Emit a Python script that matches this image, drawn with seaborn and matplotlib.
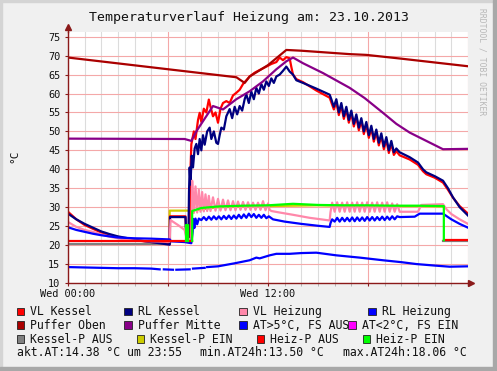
import numpy as np
import pandas as pd
import matplotlib
matplotlib.use("Agg")
import matplotlib.pyplot as plt
import seaborn as sns
from matplotlib.patches import Rectangle
from matplotlib.lines import Line2D

plt.rcParams['font.family'] = ['DejaVu Sans Mono']

nan = np.nan

# ---------------- data ----------------
title = "Temperaturverlauf Heizung am: 23.10.2013"
y_label = "°C"
y_ticks = [10, 15, 20, 25, 30, 35, 40, 45, 50, 55, 60, 65, 70, 75]
x_major = [0, 6, 12, 18, 24]
x_major_labels = ["Wed 00:00", "", "Wed 12:00", "", ""]
watermark = "RRDTOOL / TOBI OETIKER"

# VL Kessel
vlk_t = [0, 0.5, 1, 1.5, 2, 2.5, 3, 3.5, 4, 5, 6.1, 6.12, 7.05, 7.1, 7.3, 7.35, 7.4, 7.55, 7.65,
         7.8, 7.9, 8.0, 8.15, 8.3, 8.45, 8.55, 8.7, 8.85, 9.0, 9.15, 9.3, 9.5, 9.7, 9.9, 10.1,
         10.3, 10.5, 10.7, 10.9, 11.2, 11.5, 11.9, 12.2, 12.5, 12.7, 12.9, 13.1, 13.3, 13.4,
         13.5, 13.7, 14.1, 14.9, 15.7, 15.95, 16.1, 16.25, 16.4, 16.55, 16.7, 16.85, 17.0,
         17.15, 17.3, 17.45, 17.6, 17.75, 17.9, 18.05, 18.2, 18.35, 18.5, 18.65, 18.8, 18.95,
         19.1, 19.25, 19.4, 19.55, 19.7, 19.9, 20.5, 21.0, 21.3, 21.5, 22.0, 22.5, 22.8, 23.1,
         23.5, 24.0]
vlk_v = [28.8, 26.8, 25.3, 24.3, 23.3, 22.6, 22.1, 21.7, 21.3, 20.8, 20.4, 27.6, 27.6, 20.9, 20.9,
         40.0, 46.6, 50.0, 48.0, 53.0, 54.9, 52.5, 56.0, 55.0, 58.4, 56.5, 54.0, 55.0, 52.3,
         56.0, 57.5, 58.0, 57.5, 59.5, 60.2, 61.0, 62.5, 63.5, 64.5, 65.5, 66.2, 67.1, 67.8,
         68.3, 69.5, 68.8, 69.6, 69.3, 67.0, 65.0, 63.8, 63.0, 60.8, 58.9, 55.8, 57.8, 54.3,
         56.8, 53.3, 55.8, 52.3, 54.8, 51.3, 53.8, 50.3, 52.8, 49.3, 51.8, 48.3, 50.8, 47.3,
         49.8, 46.3, 48.8, 45.3, 47.8, 44.3, 46.8, 43.8, 44.8, 43.7, 42.6, 41.2, 39.5, 38.7,
         37.8, 36.5, 34.6, 32.5, 30.3, 28.3]

# RL Kessel
rlk_t = [0, 0.5, 1, 1.5, 2, 2.5, 3, 3.5, 4, 5, 6.1, 6.12, 7.05, 7.1, 7.22, 7.26, 7.3, 7.35, 7.42,
         7.5, 7.6, 7.7, 7.8, 7.9, 8.0, 8.1, 8.2, 8.35, 8.5, 8.6, 8.75, 8.9, 9.0, 9.1, 9.2, 9.35,
         9.5, 9.7, 9.85, 10.0, 10.15, 10.3, 10.45, 10.6, 10.7, 10.85, 11.0, 11.15, 11.3, 11.45,
         11.6, 11.75, 11.9, 12.05, 12.2, 12.35, 12.5, 12.7, 12.9, 13.1, 13.3, 13.5, 13.7, 14.1,
         14.9, 15.7, 15.8, 15.95, 16.1, 16.25, 16.4, 16.55, 16.7, 16.85, 17.0, 17.15, 17.3,
         17.45, 17.6, 17.75, 17.9, 18.05, 18.2, 18.35, 18.5, 18.65, 18.8, 18.95, 19.1, 19.25,
         19.4, 19.55, 19.7, 19.9, 20.5, 21.0, 21.3, 21.5, 22.0, 22.5, 22.8, 23.1, 23.5, 24.0]
rlk_v = [28.3, 26.8, 25.6, 24.6, 23.6, 22.9, 22.3, 21.9, 21.4, 20.8, 20.1, 27.4, 27.4, 21.0, 21.0,
         34.0, 40.5, 36.0, 43.6, 40.5, 45.5, 46.7, 44.0, 48.0, 45.0, 49.0, 46.5, 50.0, 51.0,
         48.0, 50.0, 47.0, 46.7, 49.0, 51.0, 50.5, 54.0, 55.9, 53.5, 56.5, 54.5, 56.7, 55.5,
         58.5, 59.8, 57.5, 60.5, 58.5, 61.5, 60.0, 62.5, 61.0, 63.2, 62.0, 64.0, 62.8, 64.5,
         65.0, 66.0, 67.1, 65.8, 65.0, 63.5, 62.8, 61.3, 59.7, 58.5, 56.5, 58.5, 55.0, 57.5,
         54.0, 56.5, 53.0, 55.5, 52.0, 54.5, 51.0, 53.5, 50.0, 52.5, 49.0, 51.5, 48.0, 50.5,
         47.0, 49.5, 46.0, 48.5, 45.0, 47.5, 44.5, 45.5, 44.5, 43.2, 41.8, 40.0, 39.2, 38.2,
         37.0, 35.0, 32.6, 30.0, 27.8]

# VL Heizung
vlh_t = [0, 0.5, 1, 1.5, 2, 2.5, 3, 3.5, 4, 5, 6.1, 6.15, 6.6, 7.0, 7.1, 7.4, 7.45, 7.55, 7.65,
         7.75, 7.85, 7.95, 8.05, 8.15, 8.25, 8.35, 8.45, 8.55, 8.7, 8.85, 9.0, 9.15, 9.3, 9.45,
         9.6, 9.75, 9.9, 10.05, 10.2, 10.35, 10.5, 10.65, 10.8, 10.95, 11.1, 11.25, 11.4, 11.55,
         11.7, 11.85, 12.0, 12.1, 12.2, 12.7, 13.5, 14.5, 15.7, 15.75, 15.85, 16.0, 16.15, 16.3,
         16.45, 16.6, 16.75, 16.9, 17.05, 17.2, 17.35, 17.5, 17.65, 17.8, 17.95, 18.1, 18.25,
         18.4, 18.55, 18.7, 18.85, 19.0, 19.15, 19.3, 19.45, 19.6, 19.75, 19.9, 21.0, 21.2,
         22.5, 22.7, 23.0, 23.5, 24.0]
vlh_v = [26.1, 24.8, 24.0, 23.5, 22.8, 22.2, 21.8, 21.4, 21.2, 21.0, 20.9, 26.6, 25.3, 24.0, 22.0,
         21.3, 37.0, 28.5, 35.5, 28.6, 34.6, 28.8, 34.0, 28.9, 33.4, 29.0, 33.0, 29.0, 32.6,
         29.1, 32.2, 29.1, 32.0, 29.2, 31.8, 29.2, 31.6, 29.2, 31.5, 29.3, 31.4, 29.3, 31.3,
         29.3, 31.2, 29.3, 31.2, 29.3, 31.6, 29.2, 31.0, 29.3, 29.0, 28.6, 28.0, 27.2, 26.5,
         28.7, 31.2, 28.8, 31.3, 28.8, 31.2, 28.8, 31.3, 28.8, 31.2, 28.8, 31.3, 28.8, 31.2,
         28.8, 31.3, 28.8, 31.2, 28.8, 31.3, 28.8, 31.2, 28.8, 31.3, 28.8, 31.0, 28.8, 30.8,
         28.8, 28.8, 30.6, 30.8, 29.5, 28.2, 26.8, 25.6]

# RL Heizung
rlh_t = [0, 0.5, 1, 1.5, 2, 2.5, 3, 4, 5, 6.1, 6.2, 7.0, 7.4, 7.48, 7.52, 7.58, 7.65, 7.75, 7.85,
         8.0, 8.15, 8.3, 8.45, 8.6, 8.75, 8.9, 9.05, 9.2, 9.35, 9.5, 9.65, 9.8, 9.95, 10.1, 10.25,
         10.4, 10.55, 10.7, 10.85, 11.0, 11.15, 11.3, 11.45, 11.6, 11.75, 11.9, 12.05, 12.3,
         13.0, 14.0, 15.0, 15.7, 15.75, 15.85, 16.0, 16.15, 16.3, 16.45, 16.6, 16.75, 16.9,
         17.05, 17.2, 17.35, 17.5, 17.65, 17.8, 17.95, 18.1, 18.25, 18.4, 18.55, 18.7, 18.85,
         19.0, 19.15, 19.3, 19.45, 19.6, 19.75, 19.9, 20.8, 21.1, 22.5, 23.0, 23.5, 24.0]
rlh_v = [24.7, 24.0, 23.5, 23.0, 22.6, 22.3, 22.0, 21.8, 21.7, 21.5, 21.0, 20.8, 20.5, 23.5, 26.9,
         24.5, 27.0, 25.5, 27.0, 26.6, 27.4, 26.6, 27.5, 26.7, 27.6, 26.8, 27.6, 26.8, 27.7,
         26.9, 27.8, 26.9, 27.8, 27.0, 28.0, 27.1, 28.1, 27.2, 28.3, 27.4, 28.2, 27.2, 28.0,
         27.2, 28.0, 27.1, 27.6, 26.8, 26.2, 25.6, 25.1, 24.8, 25.8, 26.8, 26.2, 27.2, 26.2,
         27.2, 26.3, 27.2, 26.3, 27.3, 26.3, 27.3, 26.4, 27.3, 26.4, 27.4, 26.5, 27.4, 26.5,
         27.4, 26.6, 27.5, 26.6, 27.5, 26.7, 27.6, 26.8, 27.6, 27.4, 27.5, 28.3, 28.3, 26.8,
         25.6, 24.6]

# Puffer Oben
po_t = [0, 10.1, 10.6, 10.9, 12.0, 13.1, 14.0, 16.9, 17.9, 20.0, 22.0, 24.0]
po_v = [69.5, 64.3, 62.8, 64.5, 67.5, 71.5, 71.3, 70.4, 70.2, 69.2, 68.2, 67.2]

# Puffer Mitte
pm_t = [0, 7.0, 7.4, 7.7, 8.1, 8.7, 9.3, 10.1, 10.9, 11.7, 12.5, 13.1, 13.5, 14.1, 15.3, 16.9,
        17.8, 18.9, 19.7, 20.5, 21.5, 22.5, 24.0]
pm_v = [48.1, 48.0, 47.5, 50.0, 52.7, 56.7, 55.8, 58.5, 60.6, 63.2, 66.4, 68.5, 69.5, 68.0, 65.4,
        61.5, 58.8, 54.9, 52.0, 49.7, 47.5, 45.3, 45.4]

# Aussentemperatur (AT>5°C, FS AUS)
at_t = [0, 1, 2, 3, 4, 5, 5.5, nan, 5.75, 6.3, nan, 6.5, 7.3, nan, 7.5, 8.2, nan, 8.35, 9.0,
        10.0, 10.9, 11.3, 11.5, 12.1, 12.5, 13.3, 14.0, 14.9, 16.1, 17.5, 18.9, 20.0, 20.9,
        22.0, 22.9, 24.0]
at_v = [14.2, 14.1, 14.0, 13.9, 13.9, 13.8, 13.6, nan, 13.6, 13.5, nan, 13.5, 13.6, nan, 13.8,
        14.0, nan, 14.2, 14.4, 15.2, 16.0, 16.7, 16.5, 17.3, 17.7, 17.7, 17.9, 18.0, 17.3,
        16.7, 16.0, 15.5, 15.0, 14.6, 14.3, 14.4]

# Kessel-Pumpe
kpa_t = [0, 6.1, 6.1, nan, 22.5, 24.0]
kpa_v = [20.3, 20.3, 25.0, nan, 21.2, 21.2]
kpe_t = [6.1, 6.1, 7.45, 9.0, 12.0, 15.0, 18.0, 21.0, 22.5]
kpe_v = [25.0, 29.1, 29.1, 30.0, 30.3, 30.5, 30.3, 30.3, 30.2]

# Heiz-Pumpe
hpa_t = [0, 7.1, nan, 7.2, 7.45, nan, 22.55, 24.0]
hpa_v = [21.1, 21.1, nan, 21.1, 21.1, nan, 21.3, 21.3]
hpe_t = [7.1, 7.1, 7.2, 7.2, nan, 7.45, 7.45, 8.0, 9.0, 10.5, 12.0, 13.5, 15.0, 16.5, 18.0,
         19.5, 21.0, 22.5, 22.55, 22.55]
hpe_v = [21.1, 25.3, 25.3, 21.1, nan, 21.1, 29.0, 29.8, 30.2, 30.4, 30.5, 30.9, 30.6, 30.5,
         30.5, 30.4, 30.4, 30.3, 30.3, 21.3]

legend_names = ["VL Kessel", "RL Kessel", "VL Heizung", "RL Heizung",
                "Puffer Oben", "Puffer Mitte", "AT>5°C, FS AUS", "AT<2°C, FS EIN",
                "Kessel-P AUS", "Kessel-P EIN", "Heiz-P AUS", "Heiz-P EIN"]
legend_colors = ["#ff0000", "#000080", "#ff88aa", "#0000ff",
                 "#aa0000", "#880088", "#0000ff", "#ff00ff",
                 "#808080", "#cccc00", "#ff0000", "#00ff00"]
stats_texts = ["akt.AT:14.38 °C um 23:55", "min.AT24h:13.50 °C", "max.AT24h:18.06 °C"]

# ---------------- figure ----------------
W, H = 497, 371
fig = plt.figure(figsize=(W / 100, H / 100), dpi=100)
fig.patch.set_facecolor("#f0f0f0")

def fx(px):
    return px / W

def fy(py):
    return 1 - py / H

# border
fig.patches.append(Rectangle((0, 0), fx(2), 1, transform=fig.transFigure, color="#d4d4d4", zorder=0))
fig.patches.append(Rectangle((0, fy(2)), 1, fx(2) * W / H, transform=fig.transFigure, color="#d4d4d4", zorder=0))
fig.patches.append(Rectangle((fx(493), 0), fx(4), 1, transform=fig.transFigure, color="#a8a8a8", zorder=0))
fig.patches.append(Rectangle((0, 0), 1, 1 - fy(4) + 0 * 1, transform=fig.transFigure, color="#a8a8a8", zorder=0))
fig.patches[-1].set_height(4 / H)

ax_left, ax_right, ax_bottom, ax_top = 68, 468, 283, 32.3
ax = fig.add_axes([fx(ax_left), fy(ax_bottom), (ax_right - ax_left) / W, (ax_bottom - ax_top) / H])
ax.set_facecolor("white")
ax.set_xlim(0, 24)
ax.set_ylim(10, 76.16)

# grid
major_c = "#f4a8a8"
minor_c = "#dcdcdc"
for h in range(25):
    if h % 6 == 0:
        continue
    ax.axvline(h, color=minor_c, lw=0.8, zorder=0)
for h in x_major:
    ax.axvline(h, color=major_c, lw=0.8, zorder=0.5)
for yv in y_ticks:
    ax.axhline(yv, color=major_c, lw=0.8, zorder=0.5)

def draw(t, v, color, lw=1.6, z=2):
    t = np.asarray(t, float)
    v = np.asarray(v, float)
    seg = np.cumsum(np.isnan(t))
    df = pd.DataFrame({"t": t, "v": v, "seg": seg}).dropna()
    for _, g in df.groupby("seg"):
        sns.lineplot(data=g, x="t", y="v", ax=ax, color=color, lw=lw, estimator=None,
                     sort=False, zorder=z, legend=False)

draw(kpa_t, kpa_v, legend_colors[8], z=1.5)
draw(kpe_t, kpe_v, legend_colors[9], z=1.6)
draw(vlk_t, vlk_v, legend_colors[0], z=2)
draw(rlk_t, rlk_v, legend_colors[1], z=2.1)
draw(vlh_t, vlh_v, legend_colors[2], z=2.2)
draw(rlh_t, rlh_v, legend_colors[3], z=2.3)
draw(po_t, po_v, legend_colors[4], z=2.4)
draw(pm_t, pm_v, legend_colors[5], z=2.5)
draw(at_t, at_v, legend_colors[6], z=2.6)
draw(hpa_t, hpa_v, legend_colors[10], z=2.7)
draw(hpe_t, hpe_v, legend_colors[11], z=2.8)

ax.set_xlabel("")
ax.set_ylabel("")

# axes & ticks
axis_c = "#8b1a1a"
for s in ["top", "right"]:
    ax.spines[s].set_visible(False)
for s in ["left", "bottom"]:
    ax.spines[s].set_color(axis_c)
    ax.spines[s].set_linewidth(1.0)
    ax.spines[s].set_zorder(5)

ax.set_yticks(y_ticks)
ax.set_yticklabels([str(v) for v in y_ticks])
ax.set_xticks(x_major)
ax.set_xticklabels(x_major_labels)
ax.set_xticks(list(range(25)), minor=True)
ax.tick_params(axis="y", which="major", length=2, width=0.8, color=axis_c, pad=3.5,
               labelsize=7.4, labelcolor="#111111")
ax.tick_params(axis="x", which="major", length=2, width=0.8, color=axis_c, pad=2.5,
               labelsize=7.4, labelcolor="#111111")
ax.tick_params(axis="x", which="minor", length=2, width=0.6, color="#aaaaaa")

# axis extensions and arrows
yt = (ax_bottom - 27) / (ax_bottom - ax_top)
ax.plot([0, 0], [1, yt], transform=ax.transAxes, color=axis_c, lw=1.0, clip_on=False, zorder=5)
ax.plot([0], [yt], transform=ax.transAxes, marker="^", ms=4, color=axis_c, clip_on=False, zorder=5)
xt = (471 - ax_left) / (ax_right - ax_left)
ax.plot([1, xt], [0, 0], transform=ax.transAxes, color=axis_c, lw=1.0, clip_on=False, zorder=5)
ax.plot([xt], [0], transform=ax.transAxes, marker=">", ms=4, color=axis_c, clip_on=False, zorder=5)

# title, y label, watermark
fig.text(fx(249), fy(17), title, ha="center", va="center", fontsize=9.5, color="#111111")
fig.text(fx(14), fy(156), y_label, ha="center", va="center", rotation=90, fontsize=8, color="#111111")
fig.text(fx(482), fy(8), watermark, ha="center", va="top", rotation=270, fontsize=5.8, color="#b8b8b8")

# legend
row_y = [311.3, 325.0, 339.0]
box_x = [[16.7, 124.3, 239.3, 368.3],
         [16.7, 124.3, 239.3, 348.3],
         [16.7, 136.7, 256.7, 362.7]]
bs = 7.3
for i, (name, col) in enumerate(zip(legend_names, legend_colors)):
    r, c = divmod(i, 4)
    bx = box_x[r][c]
    by = row_y[r]
    fig.patches.append(Rectangle((fx(bx), fy(by + bs / 2)), bs / W, bs / H, transform=fig.transFigure,
                                 facecolor=col, edgecolor="#222222", lw=0.6, zorder=3))
    fig.text(fx(bx + 13.3), fy(by + 0.3), name, ha="left", va="center", fontsize=8.3, color="#111111")

stats_x = [16.7, 200.0, 342.7]
for sx, st in zip(stats_x, stats_texts):
    fig.text(fx(sx), fy(352.7), st, ha="left", va="center", fontsize=8.3, color="#111111")

fig.savefig("out.png", dpi=100, facecolor=fig.get_facecolor())
